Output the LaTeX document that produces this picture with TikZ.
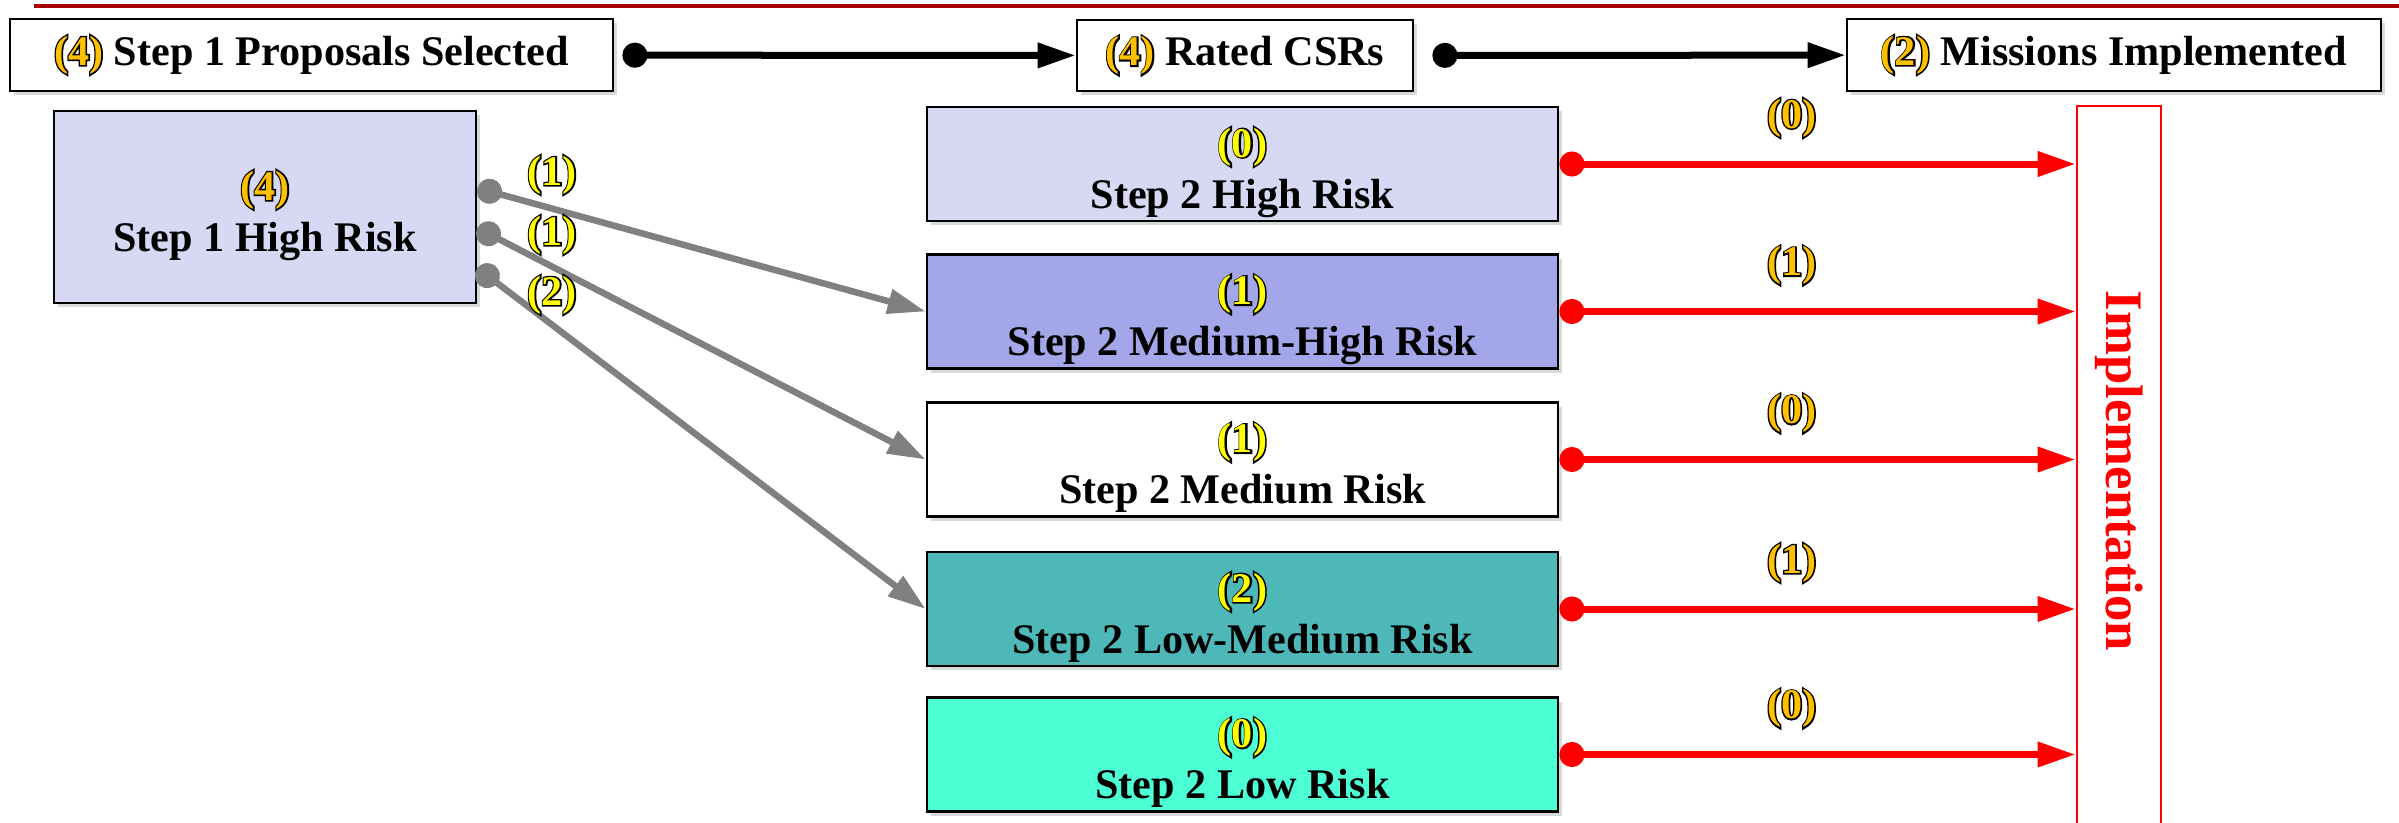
\documentclass[tikz,border=0pt]{standalone}
\usepackage{fontspec}
\setmainfont{Liberation Serif}
\newfontface\ringfont{Liberation Serif Bold}[FakeBold=7]
\usepackage{xcolor}
\usetikzlibrary{arrows.meta,calc,shadows}

\definecolor{rulered}{RGB}{165,0,0}
\definecolor{lavender}{RGB}{214,216,244}
\definecolor{periwinkle}{RGB}{163,166,232}
\definecolor{tealbox}{RGB}{78,184,184}
\definecolor{aquabox}{RGB}{77,255,212}
\definecolor{gold}{RGB}{255,192,0}
\definecolor{lemon}{RGB}{255,255,0}
\definecolor{linkgray}{RGB}{128,128,128}

% coloured count with a black rim
\newcommand{\riskcount}[2]{\rlap{\ringfont\color{black}#2}{\color{#1}#2}}

\begin{document}
\begin{tikzpicture}[
  every node/.style={font=\bfseries\fontsize{12}{14.5}\selectfont},
  stagebox/.style={draw, rectangle, line width=0.8pt, fill=white, align=center,
    drop shadow={opacity=0.3, shadow xshift=0.04cm, shadow yshift=-0.04cm}},
  twoline/.style={text depth=0pt, text height=0.88cm},
  riskbox/.style={stagebox, twoline, minimum width=6.31cm, minimum height=1.14cm},
  flowline/.style={line width=0.07cm, {Circle[length=0.25cm]}-{Triangle[length=0.38cm,width=0.24cm]}},
  countlabel/.style={inner sep=0pt}
]
\useasboundingbox (0,0) rectangle (23.99,-8.22);

\draw[rulered, line width=0.045cm] (0.34,-0.06) -- (23.99,-0.06);

% top row
\node[stagebox, minimum width=6.03cm, minimum height=0.72cm] (sel) at (3.115,-0.55) {\riskcount{gold}{(4)} Step 1 Proposals Selected};
\node[stagebox, minimum width=3.36cm, minimum height=0.71cm] (csr) at (12.45,-0.555) {\riskcount{gold}{(4)} Rated CSRs};
\node[stagebox, minimum width=5.34cm, minimum height=0.72cm] (mis) at (21.14,-0.55) {\riskcount{gold}{(2)} Missions Implemented};

\draw[flowline, shorten <=0.08cm] (sel) -- (csr);
\draw[flowline, shorten <=0.18cm] (csr) -- (mis);

% step 1
\node[stagebox, twoline, fill=lavender, minimum width=4.22cm, minimum height=1.92cm] (s1high) at (2.65,-2.07) {\riskcount{gold}{(4)}\\Step 1 High Risk};

% step 2
\node[riskbox, fill=lavender] (s2high) at (12.425,-1.64) {\riskcount{lemon}{(0)}\\Step 2 High Risk};
\node[riskbox, fill=periwinkle] (s2medhigh) at (12.425,-3.115) {\riskcount{lemon}{(1)}\\Step 2 Medium-High Risk};
\node[riskbox, fill=white] (s2med) at (12.425,-4.595) {\riskcount{lemon}{(1)}\\Step 2 Medium Risk};
\node[riskbox, fill=tealbox] (s2lowmed) at (12.425,-6.09) {\riskcount{lemon}{(2)}\\Step 2 Low-Medium Risk};
\node[riskbox, fill=aquabox] (s2low) at (12.425,-7.545) {\riskcount{lemon}{(0)}\\Step 2 Low Risk};

\node[draw=red, line width=0.8pt, fill=white, rotate=-90, minimum width=7.3cm, minimum height=0.84cm,
  text=red, font=\bfseries\fontsize{15}{18}\selectfont] (impl) at (21.19,-4.71) {Implementation};

% step 1 to step 2
\draw[flowline, linkgray, line width=0.065cm] ($(s1high.east)+(0,0.19)$) -- (s2medhigh.west);
\draw[flowline, linkgray, line width=0.065cm] ($(s1high.east)+(0,-0.21)$) -- (s2med.west);
\draw[flowline, linkgray, line width=0.065cm] ($(s1high.east)+(0,-0.61)$) -- (s2lowmed.west);
\node[countlabel] (n1) at (5.52,-1.75) {\riskcount{lemon}{(1)}};
\node[countlabel] (n2) at (5.52,-2.35) {\riskcount{lemon}{(1)}};
\node[countlabel] (n3) at (5.52,-2.95) {\riskcount{lemon}{(2)}};

% step 2 to implementation
\draw[flowline, red] (s2high.east) -- node[countlabel, pos=0.45, yshift=0.46cm] {\riskcount{gold}{(0)}} (s2high.east -| impl.south);
\draw[flowline, red] (s2medhigh.east) -- node[countlabel, pos=0.45, yshift=0.46cm] {\riskcount{gold}{(1)}} (s2medhigh.east -| impl.south);
\draw[flowline, red] (s2med.east) -- node[countlabel, pos=0.45, yshift=0.46cm] {\riskcount{gold}{(0)}} (s2med.east -| impl.south);
\draw[flowline, red] (s2lowmed.east) -- node[countlabel, pos=0.45, yshift=0.46cm] {\riskcount{gold}{(1)}} (s2lowmed.east -| impl.south);
\draw[flowline, red] (s2low.east) -- node[countlabel, pos=0.45, yshift=0.46cm] {\riskcount{gold}{(0)}} (s2low.east -| impl.south);
\end{tikzpicture}
\end{document}
